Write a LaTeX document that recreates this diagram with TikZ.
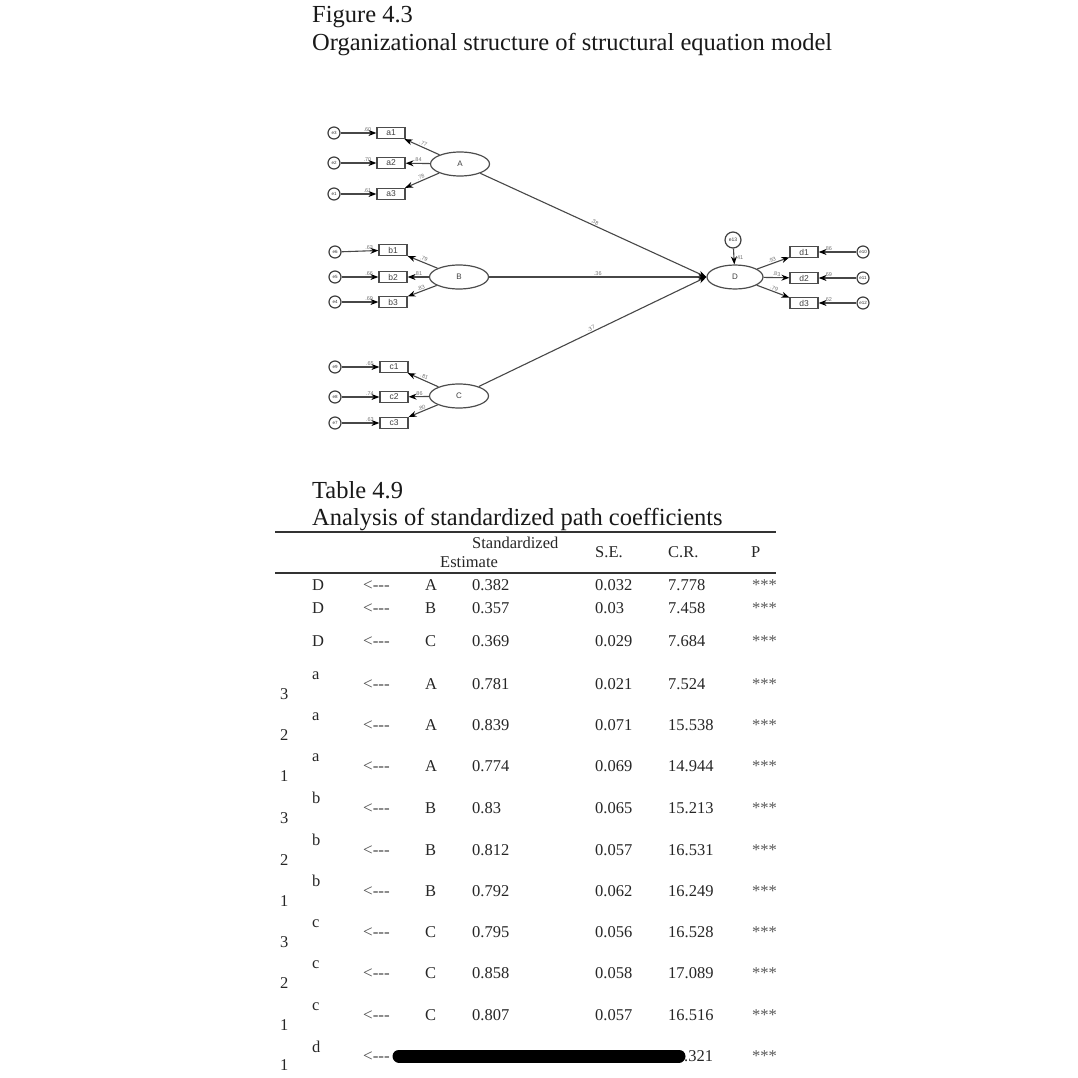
\documentclass[tikz,border=0pt]{standalone}
\usepackage{fontspec}
\setmainfont{Liberation Serif}
\newfontfamily\diagfont{Liberation Sans}
\usetikzlibrary{shapes.geometric,arrows.meta}
\newcommand{\larr}{\mbox{<-{}-{}-}}
\begin{document}
\begin{tikzpicture}[x=1pt,y=-1pt,
  ln/.style={draw=black!72, line width=1.1pt},
  arr/.style={ln, -{Stealth[length=8pt,width=6pt,black]}},
  obs/.style={draw=black!70, line width=1.2pt, minimum width=28pt, minimum height=11pt, inner sep=0pt, font=\diagfont\fontsize{8.5}{8.5}\selectfont, text=black!75},
  lat/.style={ellipse, draw=black!70, line width=1.2pt, minimum width=59pt, minimum height=24pt, inner sep=0pt, font=\diagfont\fontsize{8}{8}\selectfont, text=black!75},
  err/.style={circle, draw=black!75, line width=1.2pt, minimum size=12pt, inner sep=0pt, font=\diagfont\fontsize{4.5}{4.5}\selectfont, text=black!80},
  lbl/.style={font=\diagfont\fontsize{5.5}{5.5}\selectfont, text=black!55, inner sep=1pt},
  tb/.style={anchor=base west, inner sep=0pt, font=\fontsize{16.5}{18}\selectfont, text=black!85},
  tarr/.style={tb, font=\fontsize{17}{18}\selectfont, text=black!70},
  ttl/.style={anchor=base west, inner sep=0pt, font=\fontsize{24.5}{28}\selectfont, text=black!90}
]
\useasboundingbox[fill=white] (0,0) rectangle (1078,1078);

% titles
\node[ttl] (fig) at (312,23) {Figure 4.3};
\node[ttl] (figt) at (312,51) {Organizational structure of structural equation model};
\node[ttl] (tab) at (312,498) {Table 4.9};
\node[ttl] (tabt) at (312,525) {Analysis of standardized path coefficients};

% ---------- diagram ----------
\node[lat] (A) at (460,164) {A};
\node[lat] (B) at (459,277) {B};
\node[lat] (C) at (459,396) {C};
\node[lat, minimum width=56pt] (D) at (735,277) {D};

\node[obs] (a1) at (391,133) {a1};
\node[obs] (a2) at (391,163) {a2};
\node[obs] (a3) at (391,194) {a3};
\node[obs] (b1) at (393,250) {b1};
\node[obs] (b2) at (393,277) {b2};
\node[obs] (b3) at (393,302) {b3};
\node[obs] (c1) at (394,367) {c1};
\node[obs] (c2) at (394,397) {c2};
\node[obs] (c3) at (394,423) {c3};
\node[obs] (d1) at (804,252) {d1};
\node[obs] (d2) at (804,278) {d2};
\node[obs] (d3) at (804,303) {d3};

\node[err] (e3) at (334,133) {e3};
\node[err] (e2) at (334,163) {e2};
\node[err] (e1) at (334,194) {e1};
\node[err] (e6) at (335,252) {e6};
\node[err] (e5) at (335,277) {e5};
\node[err] (e4) at (335,302) {e4};
\node[err] (e9) at (335,367) {e9};
\node[err] (e8) at (335,397) {e8};
\node[err] (e7) at (335,423) {e7};
\node[err] (e10) at (863,252) {e10};
\node[err] (e11) at (863,278) {e11};
\node[err] (e12) at (863,303) {e12};
\node[err, minimum size=16pt, font=\diagfont\fontsize{5}{5}\selectfont] (e13) at (733,240) {e13};

% error arrows with R^2
\draw[arr] (e3) -- (a1) node[lbl, pos=0.75, above] {.60};
\draw[arr] (e2) -- (a2) node[lbl, pos=0.75, above] {.70};
\draw[arr] (e1) -- (a3) node[lbl, pos=0.75, above] {.61};
\draw[arr] (e6) -- (b1) node[lbl, pos=0.75, above] {.63};
\draw[arr] (e5) -- (b2) node[lbl, pos=0.75, above] {.66};
\draw[arr] (e4) -- (b3) node[lbl, pos=0.75, above] {.69};
\draw[arr] (e9) -- (c1) node[lbl, pos=0.75, above] {.65};
\draw[arr] (e8) -- (c2) node[lbl, pos=0.75, above] {.74};
\draw[arr] (e7) -- (c3) node[lbl, pos=0.75, above] {.63};
\draw[arr] (e10) -- (d1) node[lbl, pos=0.75, above] {.86};
\draw[arr] (e11) -- (d2) node[lbl, pos=0.75, above] {.69};
\draw[arr] (e12) -- (d3) node[lbl, pos=0.75, above] {.62};
\draw[arr] (e13) -- (D) node[lbl, pos=0.55, right] {.41};

% loadings
\draw[arr] (A) -- (a1) node[lbl, pos=0.5, sloped, above] {.77};
\draw[arr] (A) -- (a2) node[lbl, pos=0.5, sloped, above] {.84};
\draw[arr] (A) -- (a3) node[lbl, pos=0.5, sloped, above] {.78};
\draw[arr] (B) -- (b1) node[lbl, pos=0.5, sloped, above] {.79};
\draw[arr] (B) -- (b2) node[lbl, pos=0.5, sloped, above] {.81};
\draw[arr] (B) -- (b3) node[lbl, pos=0.5, sloped, above] {.83};
\draw[arr] (C) -- (c1) node[lbl, pos=0.5, sloped, above] {.81};
\draw[arr] (C) -- (c2) node[lbl, pos=0.5, sloped, above] {.86};
\draw[arr] (C) -- (c3) node[lbl, pos=0.5, sloped, above] {.80};
\draw[arr] (D) -- (d1) node[lbl, pos=0.5, sloped, above] {.93};
\draw[arr] (D) -- (d2) node[lbl, pos=0.5, sloped, above] {.83};
\draw[arr] (D) -- (d3) node[lbl, pos=0.5, sloped, above] {.79};

% structural paths
\draw[arr] (A) -- (D.west) node[lbl, pos=0.5, sloped, above] {.38};
\draw[arr] (B) -- (D.west) node[lbl, pos=0.5, sloped, above] {.36};
\draw[arr] (C) -- (D.west) node[lbl, pos=0.5, sloped, above] {.37};

% ---------- table ----------
\draw[line width=1.8pt, black!80] (275,532) -- (776,532);
\draw[line width=1.8pt, black!80] (275,573) -- (776,573);

\node[tb] (hstd) at (472,548.5) {Standardized};
\node[tb] (hest) at (440,567.5) {Estimate};
\node[tb] (hse) at (595,557.5) {S.E.};
\node[tb] (hcr) at (668,557.5) {C.R.};
\node[tb] (hp) at (751,557.5) {P};

\foreach \y/\src/\est/\se/\cr [count=\i] in {590.5/A/0.382/0.032/7.778, 613.5/B/0.357/0.03/7.458, 646.5/C/0.369/0.029/7.684}{
  \node[tb] (tgt\i) at (312,\y) {D};
  \node[tarr] (arw\i) at (363,\y) {\larr};
  \node[tb] (src\i) at (425,\y) {\src};
  \node[tb] (est\i) at (472,\y) {\est};
  \node[tb] (se\i) at (595,\y) {\se};
  \node[tb] (cr\i) at (668,\y) {\cr};
  \node[tb, text=black!65] (p\i) at (752,\y) {***};
}

\foreach \l/\n/\r/\src/\est/\se/\cr [count=\i] in {a/3/684/A/0.781/0.021/7.524, a/2/725/A/0.839/0.071/15.538, a/1/766/A/0.774/0.069/14.944, b/3/808/B/0.83/0.065/15.213, b/2/850/B/0.812/0.057/16.531, b/1/891/B/0.792/0.062/16.249, c/3/932/C/0.795/0.056/16.528, c/2/973/C/0.858/0.058/17.089, c/1/1015/C/0.807/0.057/16.516}{
  \node[tb] (ltr\i) at (312,\r-5) {\l};
  \node[tb] (num\i) at (280,\r+15) {\n};
  \node[tarr] (larw\i) at (363,\r+5.5) {\larr};
  \node[tb] (lsrc\i) at (425,\r+5.5) {\src};
  \node[tb] (lest\i) at (472,\r+5.5) {\est};
  \node[tb] (lse\i) at (595,\r+5.5) {\se};
  \node[tb] (lcr\i) at (668,\r+5.5) {\cr};
  \node[tb, text=black!65] (lp\i) at (752,\r+5.5) {***};
}

% last (partially hidden) row
\node[tb] (dltr) at (312,1052) {d};
\node[tb] (dnum) at (280,1070) {1};
\node[tarr] (darw) at (363,1061.5) {\larr};
\node[tb] (dcr) at (684,1061.5) {.321};
\node[tb, text=black!65] (dp) at (752,1061.5) {***};
\draw[line width=13pt, line cap=round, black] (399,1056) -- (679,1056);

\end{tikzpicture}
\end{document}
